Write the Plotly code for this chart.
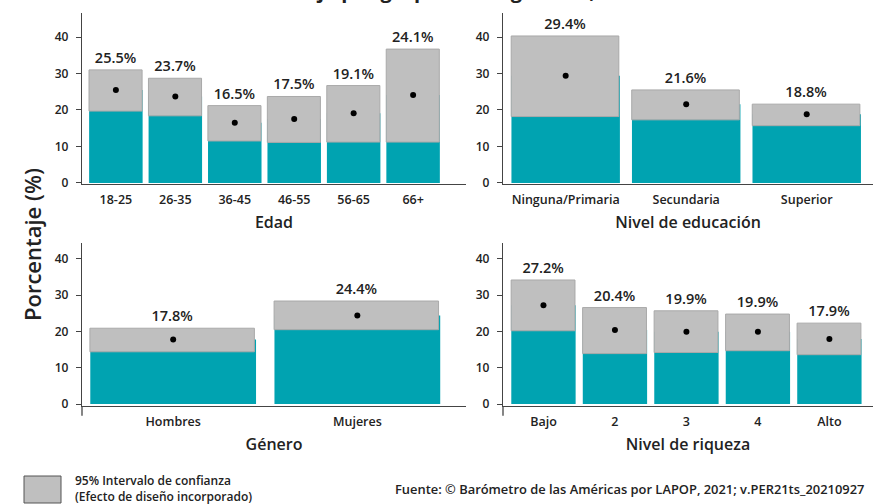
import plotly.graph_objects as go

W, H = 873, 504

# ---- data ----
edad_cats = ["18-25", "26-35", "36-45", "46-55", "56-65", "66+"]
edad_est = [25.5, 23.7, 16.5, 17.5, 19.1, 24.1]
edad_lo = [19.7, 18.4, 11.5, 11.1, 11.2, 11.2]
edad_hi = [31.0, 28.7, 21.2, 23.7, 26.7, 36.7]

edu_cats = ["Ninguna/Primaria", "Secundaria", "Superior"]
edu_est = [29.4, 21.6, 18.8]
edu_lo = [18.2, 17.3, 15.7]
edu_hi = [40.3, 25.5, 21.6]

gen_cats = ["Hombres", "Mujeres"]
gen_est = [17.8, 24.4]
gen_lo = [14.4, 20.5]
gen_hi = [20.9, 28.4]

riq_cats = ["Bajo", "2", "3", "4", "Alto"]
riq_est = [27.2, 20.4, 19.9, 19.9, 17.9]
riq_lo = [20.2, 13.9, 14.2, 14.7, 13.6]
riq_hi = [34.2, 26.6, 25.7, 24.8, 22.3]

y_ticks = [0, 10, 20, 30, 40]

TEAL = "#00A3B1"
GRAY = "#BFBFBF"
GRAY_LINE = "#A9A9A9"
TXT = "#222222"
AX = "#444444"
FONT = "Open Sans"

panels = [
    (edad_cats, edad_est, edad_lo, edad_hi, "x", "y", "Edad"),
    (edu_cats, edu_est, edu_lo, edu_hi, "x2", "y2", "Nivel de educación"),
    (gen_cats, gen_est, gen_lo, gen_hi, "x3", "y3", "Género"),
    (riq_cats, riq_est, riq_lo, riq_hi, "x4", "y4", "Nivel de riqueza"),
]

fig = go.Figure()
for cats, est, lo, hi, xa, ya, _ in panels:
    fig.add_trace(go.Bar(x=cats, y=est, marker=dict(color=TEAL, line=dict(width=0)),
                         width=0.9, xaxis=xa, yaxis=ya, hoverinfo="skip", showlegend=False))
    fig.add_trace(go.Bar(x=cats, y=[h - l for h, l in zip(hi, lo)], base=lo,
                         marker=dict(color=GRAY, line=dict(color=GRAY_LINE, width=1)),
                         width=0.893, offset=-0.452, xaxis=xa, yaxis=ya, showlegend=False,
                         text=[f"{v:.1f}%" for v in est], textposition="outside",
                         textfont=dict(family=FONT, size=14.5, color=TXT, weight=600),
                         cliponaxis=False, hoverinfo="skip"))
    fig.add_trace(go.Scatter(x=cats, y=est, mode="markers",
                             marker=dict(color="black", size=6),
                             xaxis=xa, yaxis=ya, showlegend=False, hoverinfo="skip"))

def px_x(p):
    return p / W

def px_y(p):
    return 1 - p / H

top_dom = [px_y(184), px_y(13)]
bot_dom = [px_y(406), px_y(243)]
left_dom = [px_x(82), px_x(466)]
right_dom = [px_x(503), 1.0]

xcommon = dict(type="category", showline=True, linecolor=AX, linewidth=1.3, ticks="",
               showgrid=False, zeroline=False, automargin=False,
               tickfont=dict(family=FONT, size=12.5, color=TXT, weight=600),
               ticklabelstandoff=4,
               title_font=dict(family=FONT, size=16, color=TXT, weight=600),
               title_standoff=9)
ycommon = dict(showline=True, linecolor=AX, linewidth=1.3, ticks="outside", ticklen=5,
               tickcolor=AX, tickwidth=1, showgrid=False, zeroline=False, automargin=False,
               tickvals=y_ticks, ticklabelstandoff=5,
               tickfont=dict(family=FONT, size=12, color=TXT, weight=600))

fig.update_layout(
    width=W, height=H, margin=dict(l=0, r=0, t=0, b=0, autoexpand=False),
    paper_bgcolor="white", plot_bgcolor="white",
    barmode="overlay", bargap=0.1,
    xaxis=dict(xcommon, domain=left_dom, anchor="y", range=[-0.57, 5.89], title_text="Edad"),
    yaxis=dict(ycommon, domain=top_dom, anchor="x", range=[-0.3, 46.6]),
    xaxis2=dict(xcommon, domain=right_dom, anchor="y2", range=[-0.52, 2.55], title_text="Nivel de educación"),
    yaxis2=dict(ycommon, domain=top_dom, anchor="x2", range=[-0.3, 46.6]),
    xaxis3=dict(xcommon, domain=left_dom, anchor="y3", range=[-0.495, 1.59], title_text="Género"),
    yaxis3=dict(ycommon, domain=bot_dom, anchor="x3", range=[-0.55, 44.4]),
    xaxis4=dict(xcommon, domain=right_dom, anchor="y4", range=[-0.566, 4.61], title_text="Nivel de riqueza"),
    yaxis4=dict(ycommon, domain=bot_dom, anchor="x4", range=[-0.55, 44.4]),
)

# small extension of bottom y-axis lines below the x-axis
for xr, yr in (("x3", "y3"), ("x4", "y4")):
    fig.add_shape(type="line", xref=f"{xr} domain", yref=f"{yr} domain",
                  x0=0, x1=0, y0=-0.06, y1=0, line=dict(color=AX, width=1.3))

# legend swatch
fig.add_shape(type="rect", xref="paper", yref="paper",
              x0=px_x(24), x1=px_x(61), y0=px_y(503), y1=px_y(476),
              fillcolor=GRAY, line=dict(color="#555555", width=1))

anns = [
    dict(text="Porcentaje (%)", x=px_x(32), y=px_y(245), textangle=-90,
         font=dict(family=FONT, size=22, color=TXT, weight=600)),
    dict(text="95% Intervalo de confianza<br>(Efecto de diseño incorporado)",
         x=px_x(73), y=px_y(488), xanchor="left", align="left",
         font=dict(family=FONT, size=12, color=TXT, weight=600)),
    dict(text="Fuente: © Barómetro de las Américas por LAPOP, 2021; v.PER21ts_20210927",
         x=px_x(866), y=px_y(489), xanchor="right",
         font=dict(family=FONT, size=12.9, color=TXT, weight=600)),
    dict(text="Porcentaje por grupos demográficos, 2021",
         x=0.5, y=px_y(-10), yanchor="middle",
         font=dict(family=FONT, size=20, color=TXT, weight=700)),
]
for a in anns:
    a.setdefault("xanchor", "center")
    a.setdefault("yanchor", "middle")
    fig.add_annotation(xref="paper", yref="paper", showarrow=False, **a)

fig.write_html("out.html", config={"displayModeBar": False},
               post_script="document.body.style.margin='0';document.body.style.overflow='hidden';")
